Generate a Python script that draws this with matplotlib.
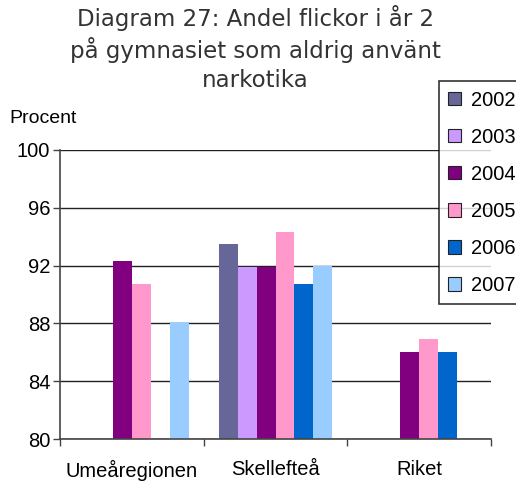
import numpy as np
import matplotlib
matplotlib.use("Agg")
import matplotlib.pyplot as plt

# Data (nan = no bar)
categories = ["Umeåregionen", "Skellefteå", "Riket"]
years = ["2002", "2003", "2004", "2005", "2006", "2007"]
v2002 = [np.nan, 93.5, np.nan]
v2003 = [np.nan, 91.9, np.nan]
v2004 = [92.3, 91.9, 86.0]
v2005 = [90.7, 94.3, 86.9]
v2006 = [np.nan, 90.7, 86.0]
v2007 = [88.1, 92.0, np.nan]
colors = ["#666699", "#CC99FF", "#800080", "#FF99CC", "#0066CC", "#99CCFF"]

series = [v2002, v2003, v2004, v2005, v2006, v2007]

plt.rcParams['font.family'] = ['Liberation Sans', 'DejaVu Sans']

fig = plt.figure(figsize=(5.16, 4.82), dpi=100)
ax = fig.add_axes([0.1163, 0.0892, 0.8353, 0.5996])

x = np.arange(len(categories))
w = 0.132
for i, (vals, c, yr) in enumerate(zip(series, colors, years)):
    vals = np.array(vals, dtype=float)
    heights = vals - 80
    ax.bar(x + (i - 2.5) * w, heights, w, bottom=80, color=c,
           edgecolor="none", label=yr)

ax.set_xlim(-0.5, 2.5)
ax.set_ylim(80, 100)
ax.set_yticks([80, 84, 88, 92, 96, 100])
ax.tick_params(axis="y", labelsize=14.5, length=5, width=1, color="#444", pad=2)
ax.yaxis.grid(True, color="#222", linewidth=1)
ax.set_axisbelow(True)

# ticks at the category borders, labels in the middle
ax.set_xticks([-0.5, 0.5, 1.5, 2.5])
ax.set_xticklabels([])
ax.set_xticks(x, minor=True)
ax.set_xticklabels(categories, minor=True)
ax.tick_params(axis="x", which="major", length=5, width=1, color="#444")
ax.tick_params(axis="x", which="minor", length=0, labelsize=14.5, pad=15)

for s in ["top", "right"]:
    ax.spines[s].set_visible(False)
for s in ["left", "bottom"]:
    ax.spines[s].set_color("#444")
    ax.spines[s].set_linewidth(1.2)

fig.text(0.019, 0.755, "Procent", fontsize=14, va="center", ha="left")

fig.text(0.495, 0.99, "Diagram 27: Andel flickor i år 2\npå gymnasiet som aldrig använt\nnarkotika",
         ha="center", va="top", fontsize=16.5, color="#333333",
         family="DejaVu Sans", linespacing=1.3)

leg = fig.legend(loc="upper left", bbox_to_anchor=(0.851, 0.831),
                 fontsize=14.5, frameon=True, fancybox=False,
                 edgecolor="black", handlelength=0.65, handleheight=0.65,
                 handletextpad=0.5, labelspacing=0.9, borderpad=0.45,
                 borderaxespad=0)
leg.get_frame().set_linewidth(1.2)
for h in leg.legend_handles:
    h.set_edgecolor("#222")
    h.set_linewidth(0.8)

fig.savefig("out.png", dpi=100)
